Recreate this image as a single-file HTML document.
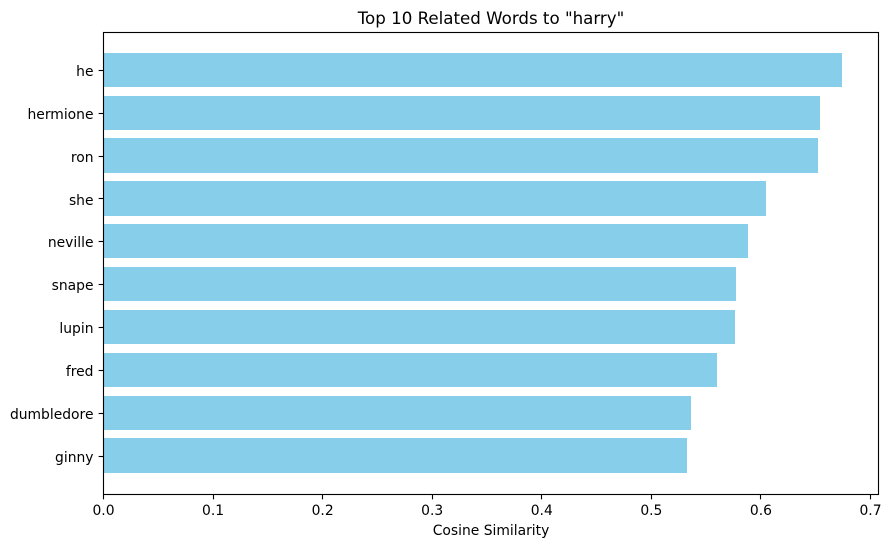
<!DOCTYPE html>
<html lang="en">
<head>
<meta charset="utf-8">
<title>Top 10 Related Words to "harry"</title>
<style>
html,body{margin:0;padding:0;background:#fff;}
svg{display:block;}
text{font-family:"DejaVu Sans",sans-serif;fill:#000;}
</style>
</head>
<body>
<svg id="chart" xmlns="http://www.w3.org/2000/svg" width="890" height="547" viewBox="0 0 890 547">
  <rect x="0" y="0" width="890" height="547" fill="#ffffff"/>
  <text x="491" y="24" font-size="16.67" text-anchor="middle">Top 10 Related Words to "harry"</text>
  <text x="491" y="535" font-size="13.89" text-anchor="middle">Cosine Similarity</text>
  <g id="bars"></g>
  <g id="y-axis"></g>
  <g id="x-axis"></g>
  <g id="spines"></g>
</svg>
<script>
const words = ["he","hermione","ron","she","neville","snape","lupin","fred","dumbledore","ginny"];
const similarities = [0.674,0.654,0.652,0.605,0.588,0.577,0.576,0.560,0.536,0.5325];
const xTicks = [0,0.1,0.2,0.3,0.4,0.5,0.6,0.7];
const xTickLabels = ["0.0","0.1","0.2","0.3","0.4","0.5","0.6","0.7"];

const NS = "http://www.w3.org/2000/svg";
const plotLeft = 103.5, plotRight = 878.5, plotTop = 32.2, plotBottom = 494.2;
const frameTop = 32.5, frameBottom = 494.5;
const xDomainMax = 0.7073;
const barHeightUnits = 0.8;
const unitPadding = 0.49 + barHeightUnits / 2;
const unitSpan = words.length - 1 + 2 * unitPadding;

function xScale(v) {
  return plotLeft + (v / xDomainMax) * (plotRight - plotLeft);
}
function yScale(i) {
  return plotTop + ((i + unitPadding) / unitSpan) * (plotBottom - plotTop);
}
function make(tag, attrs, parent) {
  const el = document.createElementNS(NS, tag);
  for (const k in attrs) el.setAttribute(k, attrs[k]);
  parent.appendChild(el);
  return el;
}

const barsG = document.getElementById("bars");
const yG = document.getElementById("y-axis");
const xG = document.getElementById("x-axis");
const spinesG = document.getElementById("spines");
const bandPx = (plotBottom - plotTop) / unitSpan;
const barPx = bandPx * barHeightUnits;

words.forEach(function (word, i) {
  const cy = yScale(i);
  const top = Math.floor(cy - barPx / 2);
  const bottom = Math.floor(cy + barPx / 2);
  const right = Math.round(xScale(similarities[i]));
  const bar = make("rect", {x: 103, y: top, width: right - 103, height: bottom - top, fill: "#87ceeb"}, barsG);
  
  

  const tickY = Math.floor(cy) + 0.5;
  const tick = make("line", {x1: plotLeft - 4.86, x2: plotLeft, y1: tickY, y2: tickY, stroke: "#000", "stroke-width": 1.11}, yG);
  
  

  const label = make("text", {x: 93.5, y: Math.round(cy + 5.66), "font-size": 13.89, "text-anchor": "end"}, yG);
  label.textContent = word;
  
  
});

xTicks.forEach(function (t, i) {
  const x = Math.round(xScale(t) - 0.5) + 0.5;
  const tick = make("line", {x1: x, x2: x, y1: frameBottom, y2: frameBottom + 4.86, stroke: "#000", "stroke-width": 1.11}, xG);
  
  

  const label = make("text", {x: xScale(t), y: 515, "font-size": 13.89, "text-anchor": "middle"}, xG);
  label.textContent = xTickLabels[i];
  
  
});

const frame = make("rect", {x: plotLeft, y: frameTop, width: plotRight - plotLeft, height: frameBottom - frameTop, fill: "none", stroke: "#000", "stroke-width": 1.11}, spinesG);


</script>
</body>
</html>
